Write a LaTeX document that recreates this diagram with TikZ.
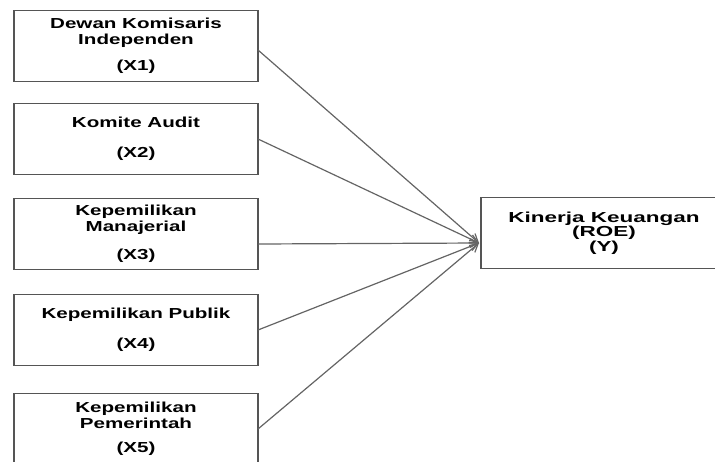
\documentclass[tikz,border=0pt]{standalone}
\usepackage{fontspec}
\newfontfamily\leftfont[FakeStretch=1.42]{Liberation Sans}
\newfontfamily\rightfont[FakeStretch=1.55]{Liberation Sans}
\usetikzlibrary{positioning,arrows.meta}
\definecolor{boxgray}{RGB}{85,85,85}
\definecolor{linegray}{RGB}{100,100,100}

\begin{document}
\begin{tikzpicture}[x=1pt,y=-1pt,
var/.style={rectangle,draw=boxgray,line width=1.3pt,minimum width=244pt,minimum height=71pt,outer sep=0pt,inner sep=0pt,align=center,font=\leftfont\bfseries\fontsize{14.5}{16}\selectfont},
dep/.style={var,minimum width=246pt,font=\rightfont\bfseries\fontsize{14.5}{14.5}\selectfont}]

\tikzset{pathline/.style={-{Straight Barb[length=8pt,width=9pt]}, line width=1.2pt, draw=linegray}}

\useasboundingbox (0,0) rectangle (715,461);
\clip (0,0) rectangle (715,461);

\node[var] (x1) at (136,46) {Dewan Komisaris\\Independen\\[10pt](X1)};
\node[var, below=22pt of x1] (x2) {Komite Audit\\[14pt](X2)};
\node[var, below=24pt of x2] (x3) {Kepemilikan\\Manajerial\\[12pt](X3)};
\node[var, below=25pt of x3] (x4) {Kepemilikan Publik\\[14pt](X4)};
\node[var, below=28pt of x4] (x5) {Kepemilikan\\Pemerintah\\[8pt](X5)};

\node[dep] (y) at (604,233) {Kinerja Keuangan\\(ROE)\\(Y)};
\coordinate (tip) at (479,243);

\draw[pathline] ([yshift=-4pt]x1.east) -- (tip);
\draw[pathline] (x2.east) -- (tip);
\draw[pathline] ([yshift=-10pt]x3.east) -- (tip);
\draw[pathline] (x4.east) -- (tip);
\draw[pathline] (x5.east) -- (tip);

\end{tikzpicture}
\end{document}
